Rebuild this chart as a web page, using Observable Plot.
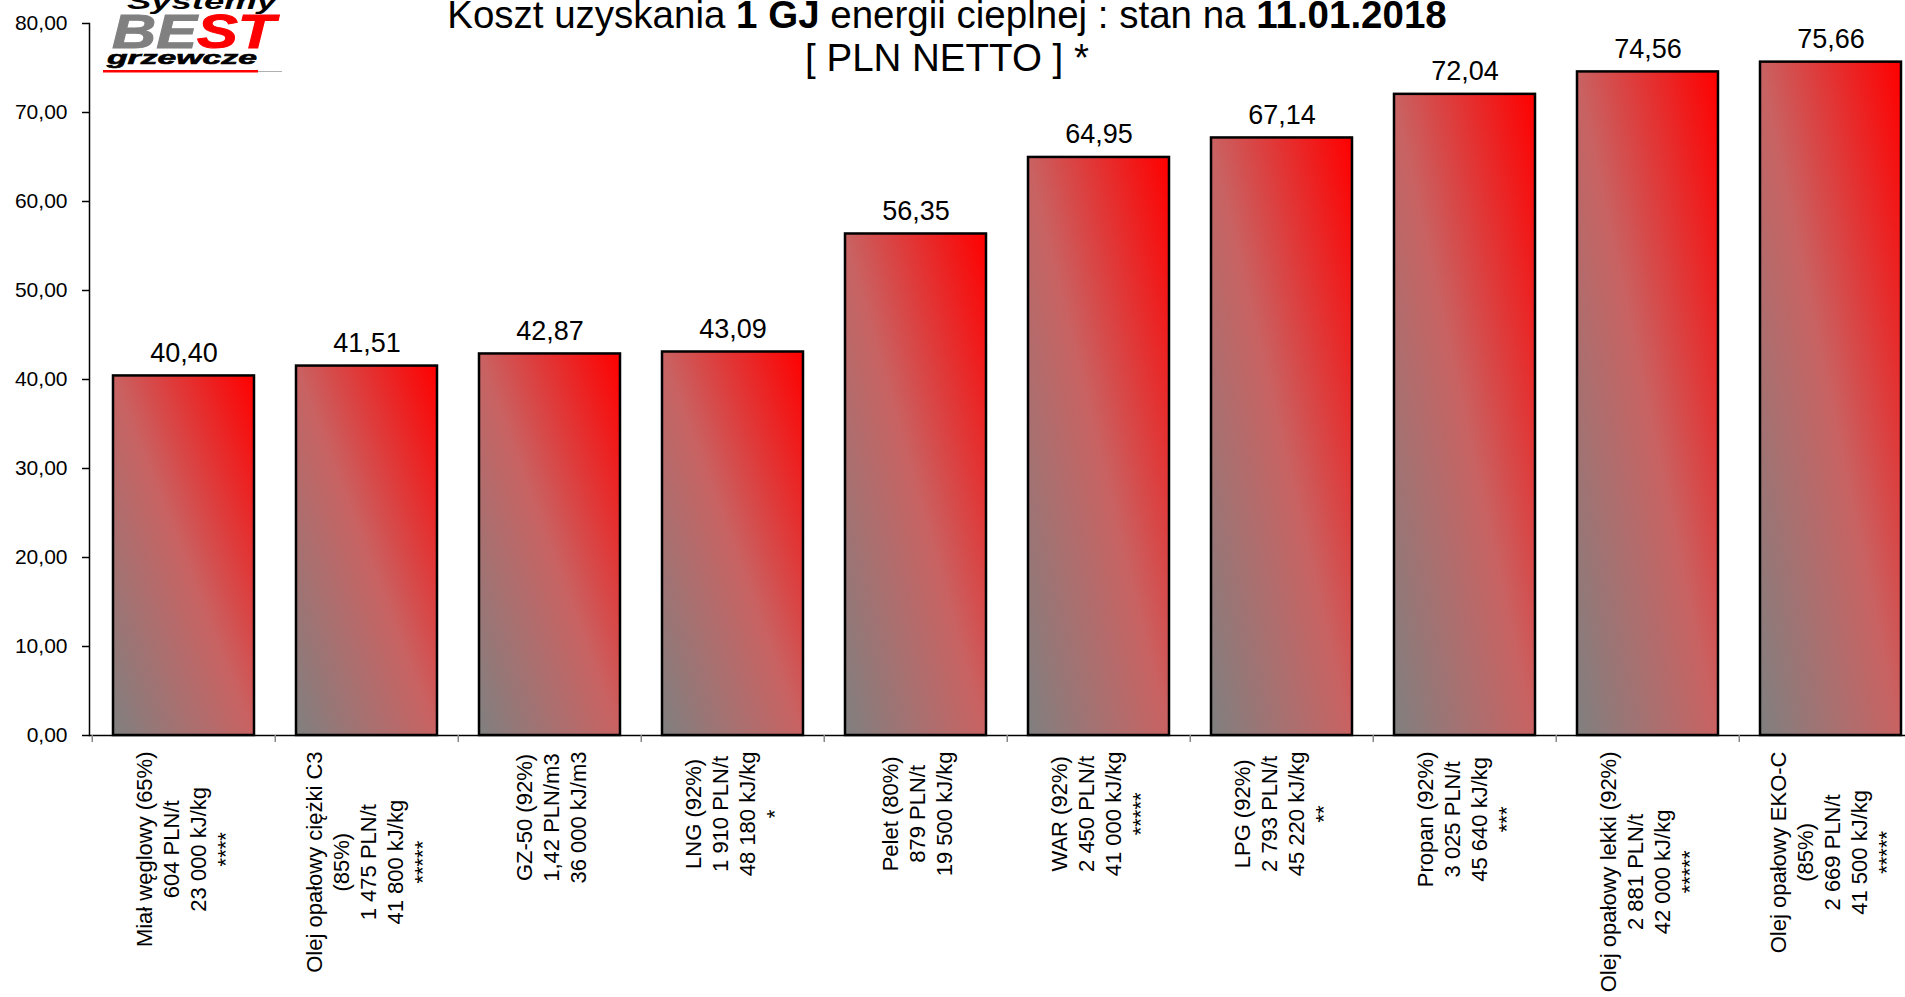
<!DOCTYPE html>
<html><head><meta charset="utf-8">
<script src="https://cdn.jsdelivr.net/npm/d3@7"></script>
<script src="https://cdn.jsdelivr.net/npm/@observablehq/plot@0.6"></script>
<style>
html,body{margin:0;padding:0;background:#fff;overflow:hidden;width:1905px;height:997px;}
#wrap{position:relative;width:1905px;height:997px;overflow:hidden;font-family:"Liberation Sans",Arial,sans-serif;}
#chart{position:absolute;left:0;top:0;}
#chart svg{max-width:none !important;}
#title{position:absolute;left:0;top:-7px;width:1894px;text-align:center;font-size:38.5px;line-height:43px;color:#000;}
#logo{position:absolute;left:100px;top:0;}
</style></head>
<body><div id="wrap"><div id="chart"></div>
<div id="title">Koszt uzyskania <b>1 GJ</b> energii cieplnej : stan na <b>11.01.2018</b><br>[ PLN NETTO ] *</div>
<svg id="logo" width="190" height="76" viewBox="0 0 190 76" font-family="Liberation Sans, Arial, sans-serif" font-weight="bold" font-style="italic">
  <text x="27" y="9" font-size="22" textLength="150" lengthAdjust="spacingAndGlyphs" fill="#000">Systemy</text>
  <text x="12" y="48" font-size="49" textLength="163" lengthAdjust="spacingAndGlyphs" stroke-width="1"><tspan fill="#808080" stroke="#808080">BE</tspan><tspan fill="#ff0000" stroke="#ff0000">ST</tspan></text>
  <text x="7" y="64" font-size="19" textLength="150" lengthAdjust="spacingAndGlyphs" fill="#000" stroke="#000" stroke-width="0.6">grzewcze</text>
  <rect x="3" y="70" width="155" height="2.5" fill="#ff0000"/>
  <rect x="158" y="71" width="24" height="1" fill="#b0b0b0"/>
</svg>
</div>
<script>
const categories = ["Miał węglowy (65%)", "Olej opałowy ciężki C3\n(85%)", "GZ-50 (92%)", "LNG (92%)", "Pelet (80%)", "WAR (92%)", "LPG (92%)", "Propan (92%)", "Olej opałowy lekki (92%)", "Olej opałowy EKO-C\n(85%)"];
const prices = ["604 PLN/t", "1 475 PLN/t", "1,42 PLN/m3", "1 910 PLN/t", "879 PLN/t", "2 450 PLN/t", "2 793 PLN/t", "3 025 PLN/t", "2 881 PLN/t", "2 669 PLN/t"];
const heatValues = ["23 000 kJ/kg", "41 800 kJ/kg", "36 000 kJ/m3", "48 180 kJ/kg", "19 500 kJ/kg", "41 000 kJ/kg", "45 220 kJ/kg", "45 640 kJ/kg", "42 000 kJ/kg", "41 500 kJ/kg"];
const notes = ["****", "*****", "", "*", "", "*****", "**", "***", "*****", "*****"];
const values = [40.40, 41.51, 42.87, 43.09, 56.35, 64.95, 67.14, 72.04, 74.56, 75.66];
const yTicks = [0, 10, 20, 30, 40, 50, 60, 70, 80];

const data = categories.map((c, i) => ({
  cat: c,
  value: values[i],
  label: [c, prices[i], heatValues[i], notes[i]].filter(s => s).join("\n")
}));

const fmt = v => v.toFixed(2).replace(".", ",");

const W = 1924, H = 997, ML = 89, MT = 23, MB = H - 735;
const step = (W - ML) / categories.length;

const ctx = document.createElement("canvas").getContext("2d");
ctx.font = '22px "Liberation Sans", Arial, sans-serif';
const longest = s => d3.max(s.split("\n"), l => ctx.measureText(l).width);

const labelMarks = data.map(d => Plot.text([d], {
  x: "cat", frameAnchor: "bottom", text: "label",
  rotate: -90, textAnchor: "middle", lineAnchor: "middle",
  lineHeight: 1.23, fontSize: 22, fill: "#000",
  dy: 16 + longest(d.label) / 2
}));

const chart = Plot.plot({
  width: W, height: H,
  marginLeft: ML, marginRight: 0, marginTop: MT, marginBottom: MB,
  style: {fontFamily: "Liberation Sans, Arial, sans-serif", background: "transparent", color: "#000", overflow: "visible", maxWidth: "none"},
  x: {type: "band", domain: categories, padding: 0, axis: null},
  y: {domain: [0, 80], axis: null},
  marks: [
    Plot.barY(data, {x: "cat", y: "value", fill: "url(#barGrad)", stroke: "#000", strokeWidth: 2.5, insetLeft: 21, insetRight: 21}),
    Plot.ruleY([0], {stroke: "#000", strokeWidth: 1.5}),
    Plot.frame({anchor: "left", stroke: "#000", strokeWidth: 1.5}),
    Plot.ruleX(categories, {x: d => d, dx: -step / 2, y1: 0, y2: -0.8, stroke: "#888", strokeWidth: 1.5}),
    Plot.axisY({ticks: yTicks, tickFormat: fmt, tickSize: 7, tickPadding: 15, fontSize: 21, stroke: "#000", strokeWidth: 1.5, label: null}),
    Plot.text(data, {x: "cat", y: "value", text: d => fmt(d.value), dy: -14, lineAnchor: "bottom", fontSize: 27, fill: "#000"}),
    ...labelMarks
  ]
});

const svg = d3.select(chart);
const defs = svg.insert("defs", ":first-child");
const grad = defs.append("linearGradient").attr("id", "barGrad")
  .attr("x1", 0).attr("y1", 1).attr("x2", 1).attr("y2", 0);
grad.append("stop").attr("offset", 0).attr("stop-color", "#808080");
grad.append("stop").attr("offset", 0.5).attr("stop-color", "#c96262");
grad.append("stop").attr("offset", 1).attr("stop-color", "#ff0000");

document.getElementById("chart").appendChild(chart);
</script>
</body></html>
